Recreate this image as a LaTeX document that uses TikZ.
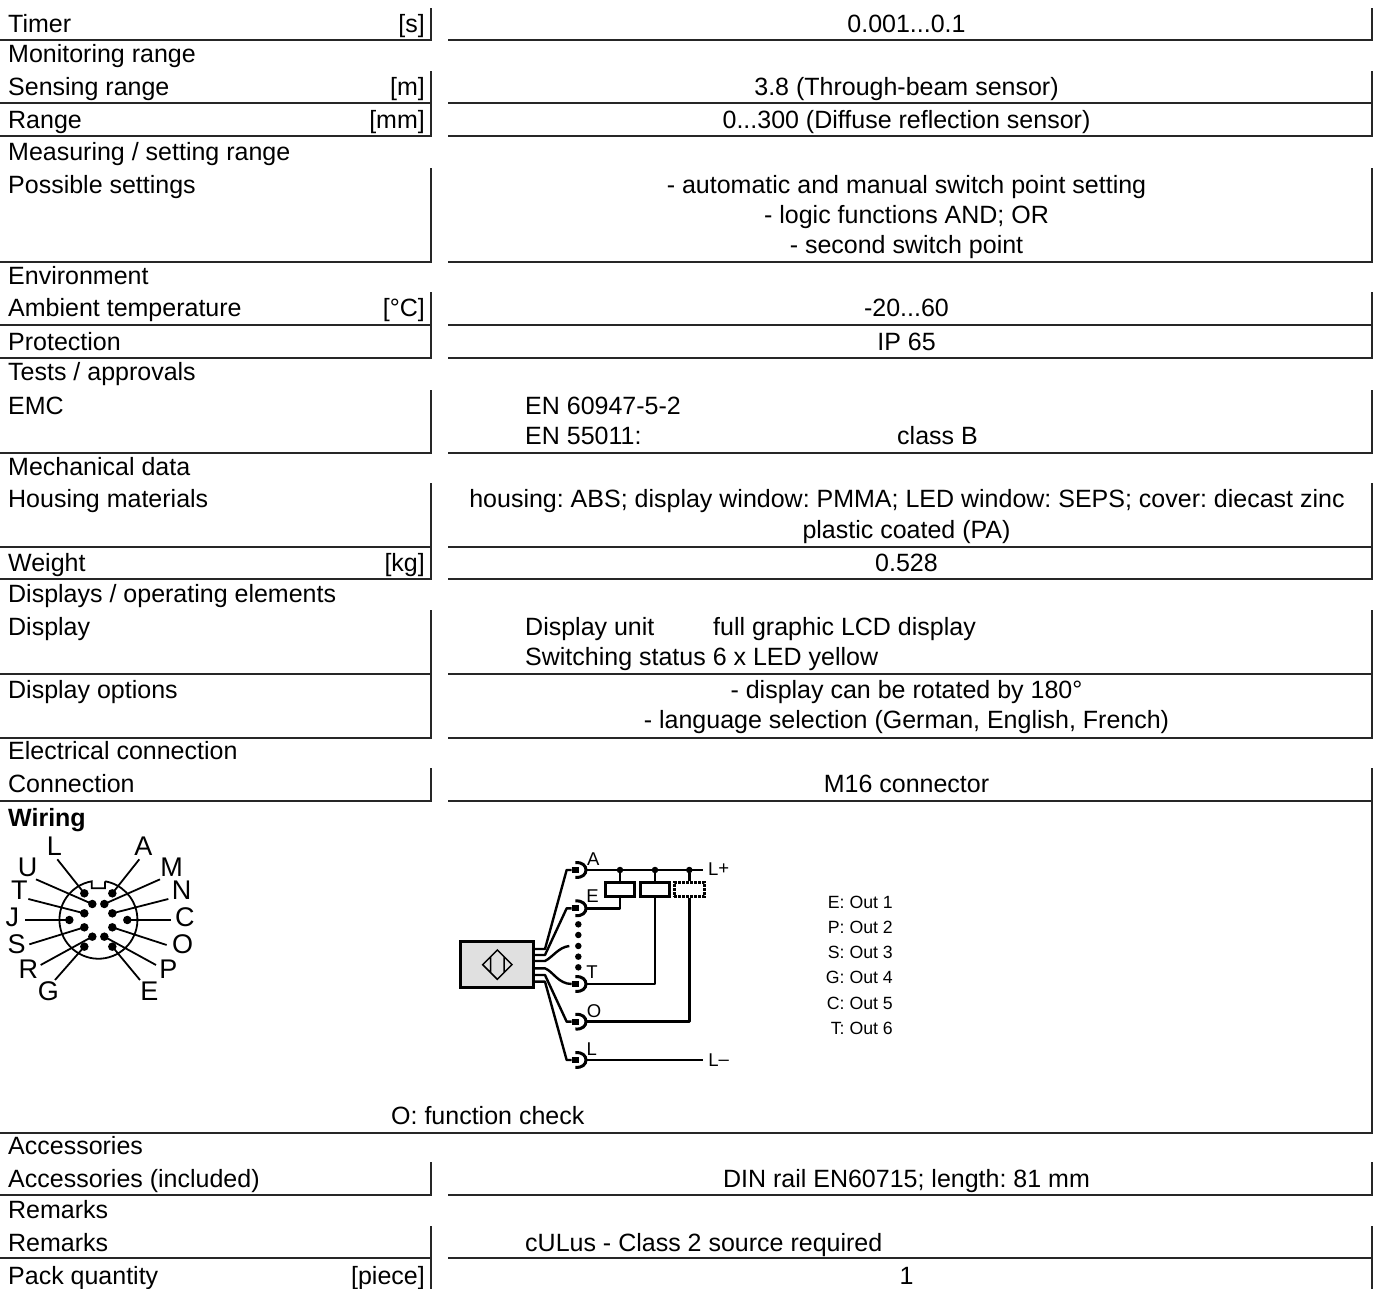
\documentclass[tikz,border=0pt]{standalone}
\usepackage{fontspec}
\setmainfont{Liberation Sans}
\newcommand{\txtsz}{\fontsize{25}{30}\selectfont\frenchspacing}
\tikzset{
  rulel/.style={line width=1.3pt,black!85},
  lab/.style={anchor=base west,inner sep=0pt,font=\txtsz},
  unitl/.style={anchor=base east,inner sep=0pt,font=\txtsz},
  val/.style={anchor=base,inner sep=0pt,font=\txtsz},
  pinl/.style={inner sep=0pt,font=\fontsize{27}{27}\selectfont},
  wl/.style={inner sep=0pt,font=\fontsize{18.5}{19}\selectfont},
  outl/.style={anchor=base east,inner sep=0pt,font=\fontsize{17.7}{18}\selectfont\frenchspacing},
  pin dot/.style={circle,fill=black,inner sep=0pt,minimum size=8.5pt},
  pinw/.style={line width=1.8pt},
  wire/.style={line width=2.4pt,line join=round},
  junc/.style={circle,fill=black,inner sep=0pt,minimum size=6.5pt},
  relay/.style={draw,line width=3pt,minimum width=29pt,minimum height=14.3pt,inner sep=0pt},
}
\newcommand{\cellrow}[2]{% top, bottom
  \draw[rulel] (0,#2) -- (431,#2) -- (431,#1);
  \draw[rulel] (448,#2) -- (1372,#2) -- (1372,#1);
}
\begin{document}
\begin{tikzpicture}[x=1pt,y=-1pt]
\useasboundingbox (0,0) rectangle (1379,1289);
% table rules
\cellrow{8}{40}
\cellrow{71}{103}
\cellrow{103}{136}
\cellrow{168}{262}
\cellrow{292}{325}
\cellrow{325}{358}
\cellrow{390}{453}
\cellrow{483}{547}
\cellrow{547}{579}
\cellrow{610}{674}
\cellrow{674}{738}
\cellrow{768}{801}
\cellrow{1162}{1195}
\draw[rulel] (0,1133) -- (1372,1133) -- (1372,801);
\draw[rulel] (0,1258) -- (431,1258) (448,1258) -- (1372,1258);
\draw[rulel] (431,1226) -- (431,1289) (1372,1226) -- (1372,1289);
% left labels
\node[lab] (t1) at (8,33) {Timer};
\node[lab] (t2) at (8,63) {Monitoring range};
\node[lab] (t3) at (8,96) {Sensing range};
\node[lab] (t4) at (8,129) {Range};
\node[lab] (t5) at (8,161) {Measuring / setting range};
\node[lab] (t6) at (8,194) {Possible settings};
\node[lab] (t7) at (8,285) {Environment};
\node[lab] (t8) at (8,317) {Ambient temperature};
\node[lab] (t9) at (8,350) {Protection};
\node[lab] (t10) at (8,381) {Tests / approvals};
\node[lab] (t11) at (8,414) {EMC};
\node[lab] (t12) at (8,475) {Mechanical data};
\node[lab] (t13) at (8,507) {Housing materials};
\node[lab] (t14) at (8,571) {Weight};
\node[lab] (t15) at (8,602) {Displays / operating elements};
\node[lab] (t16) at (8,635) {Display};
\node[lab] (t17) at (8,698) {Display options};
\node[lab] (t18) at (8,759) {Electrical connection};
\node[lab] (t19) at (8,792) {Connection};
\node[lab,font=\txtsz\bfseries] (t20) at (8,826) {Wiring};
\node[lab] (t21) at (8,1154) {Accessories};
\node[lab] (t22) at (8,1187) {Accessories (included)};
\node[lab] (t23) at (8,1218) {Remarks};
\node[lab] (t24) at (8,1251) {Remarks};
\node[lab] (t25) at (8,1284) {Pack quantity};
% units
\node[unitl] (u1) at (425,33) {[s]};
\node[unitl] (u2) at (425,96) {[m]};
\node[unitl] (u3) at (425,129) {[mm]};
\node[unitl] (u4) at (425,317) {[°C]};
\node[unitl] (u5) at (425,571) {[kg]};
\node[unitl] (u6) at (425,1284) {[piece]};
% values
\node[val] (v1) at (906.5,33) {0.001...0.1};
\node[val] (v2) at (906.5,96) {3.8 (Through-beam sensor)};
\node[val] (v3) at (906.5,129) {0...300 (Diffuse reflection sensor)};
\node[val] (v4) at (906.5,194) {- automatic and manual switch point setting};
\node[val] (v5) at (906.5,224) {- logic functions AND; OR};
\node[val] (v6) at (906.5,254) {- second switch point};
\node[val] (v7) at (906.5,317) {-20...60};
\node[val] (v8) at (906.5,350) {IP 65};
\node[lab] (v9) at (525,414) {EN 60947-5-2};
\node[lab] (v10) at (525,444) {EN 55011:};
\node[lab] (v11) at (897,444) {class B};
\node[val] (v12) at (907,507) {housing: ABS; display window: PMMA; LED window: SEPS; cover: diecast zinc};
\node[val] (v13) at (906.5,538) {plastic coated (PA)};
\node[val] (v14) at (906.5,571) {0.528};
\node[lab] (v15) at (525,635) {Display unit};
\node[lab] (v16) at (713,635) {full graphic LCD display};
\node[lab] (v17) at (525,665) {Switching status 6 x LED yellow};
\node[val] (v18) at (906.5,698) {- display can be rotated by 180°};
\node[val] (v19) at (906.5,728) {- language selection (German, English, French)};
\node[val] (v20) at (906.5,792) {M16 connector};
\node[lab] (v21) at (391,1124) {O: function check};
\node[val] (v22) at (906.5,1187) {DIN rail EN60715; length: 81 mm};
\node[lab] (v23) at (525,1251) {cULus - Class 2 source required};
\node[val] (v24) at (906.5,1284) {1};
% connector face
\begin{scope}[x=0.3333pt,y=-0.3333pt,yshift=-810pt]
\draw[line width=1.8pt] (315,214) -- (315,235) -- (275,235) -- (275,214)
  arc[start angle=260,delta angle=-340,radius=117];
\foreach \n/\px/\py/\ex/\ey/\lx/\ly in {
 L/253/250/172/148/163/108, A/337/250/418/148/430/108,
 U/277/282/108/208/83/172, M/313/282/480/208/515/172,
 T/253/310/85/267/58/242, N/337/310/505/267/545/242,
 J/208/330/75/330/37/322, C/382/330/512/330/555/322,
 S/253/352/88/403/50/402, O/337/352/500/405/548/402,
 R/277/380/122/465/85/477, P/313/380/468/465/505/477,
 G/253/410/165/510/145/545, E/337/410/420/510/448/545}{
  \node[pin dot] (pin\n) at (\px,\py) {};
  \coordinate (end\n) at (\ex,\ey);
  \node[pinl] (lab\n) at (\lx,\ly) {\n};
  \draw[pinw] (pin\n.center) -- (end\n);
}
\end{scope}
% wiring
\begin{scope}[xshift=450pt,yshift=-840pt,x=0.3333pt,y=-0.3333pt]
\node[draw,line width=3pt,fill=black!12,minimum width=73pt,minimum height=46pt,inner sep=0pt] (sensor) at (140.5,374) {};
\draw[line width=1.5pt] (98,374) -- (142,330) -- (186,374) -- (142,418) -- cycle
  (122,350) -- (122,398) (162,350) -- (162,398);
\foreach \n/\y in {A/90,E/205,T/432,O/545,L/660}{
  \coordinate (s\n) at (365,\y);
  \coordinate (c\n) at (408,\y);
  \draw[line width=6pt] (365,\y) -- (388,\y);
  \draw[line width=3pt] (376,\y-22) .. controls (398,\y-24) and (408,\y-12) .. (408,\y) .. controls (408,\y+12) and (398,\y+24) .. (376,\y+22);
}
\coordinate (sX) at (358,318);
\draw[wire] (250,327) -- (285,327) -- (350,90) -- (sA);
\draw[wire] (250,345) -- (285,345) -- (350,205) -- (sE);
\draw[wire] (250,363) -- (285,363) .. controls (310,350) and (325,322) .. (sX);
\draw[wire] (250,385) -- (285,385) .. controls (310,395) and (325,432) .. (sT);
\draw[wire] (250,405) -- (285,405) -- (350,545) -- (sO);
\draw[wire] (250,425) -- (285,425) -- (350,660) -- (sL);
\foreach \y [count=\i] in {253,285,318,350,382}{\node[junc] (d\i) at (385,\y) {};}
\coordinate (Lp) at (760,90);
\coordinate (Lm) at (760,660);
\node[relay] (r1) at (510,148.5) {};
\node[relay] (r2) at (615,148.5) {};
\node[relay,densely dotted,minimum width=30pt] (r3) at (718,148.5) {};
\node[junc] (j1) at (510,90) {};
\node[junc] (j2) at (615,90) {};
\node[junc] (j3) at (718,90) {};
\draw[wire] (cA) -- (Lp);
\draw[wire] (j1) -- (r1);
\draw[wire] (j2) -- (r2);
\draw[wire] (j3) -- (r3);
\draw[wire] (cE) -| (r1);
\draw[wire] (cT) -| (r2);
\draw[wire] (cO) -| (r3);
\draw[wire] (cL) -- (Lm);
\node[wl] (wA) at (430,58) {A};
\node[wl] (wE) at (428,168) {E};
\node[wl] (wT) at (426,397) {T};
\node[wl] (wO) at (432,512) {O};
\node[wl] (wL) at (425,628) {L};
\node[wl] (wLp) at (806,86) {L\raisebox{1pt}{+}};
\node[wl] (wLm) at (806,660) {L\raisebox{1pt}{–}};
\end{scope}
% output list
\foreach \t/\y [count=\i] in {E: Out 1/908,P: Out 2/933,S: Out 3/958,G: Out 4/983,C: Out 5/1009,T: Out 6/1034}{
  \node[outl] (o\i) at (893,\y) {\t};
}
\end{tikzpicture}
\end{document}
